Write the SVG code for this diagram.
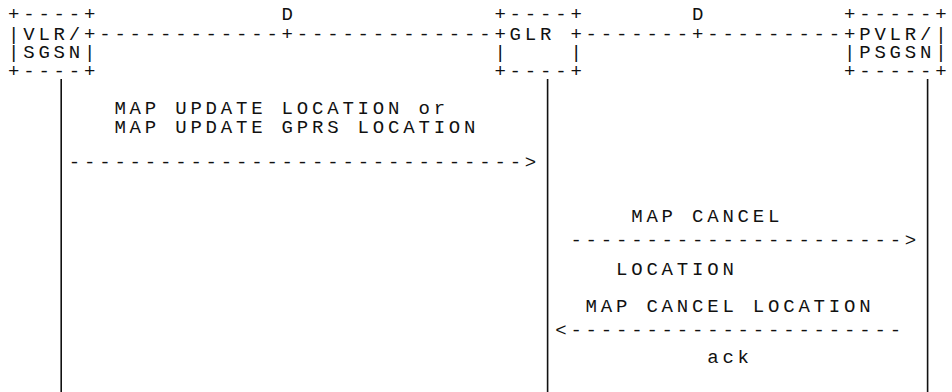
<svg xmlns="http://www.w3.org/2000/svg" width="952" height="392" viewBox="0 0 952 392">
<style>
.t{font-family:"Liberation Mono","Courier New",monospace;font-size:19px;letter-spacing:3.8px;fill:#111;white-space:pre}
.life{stroke:#111;stroke-width:1.6;fill:none}
</style>
<rect width="952" height="392" fill="#fff"/>
<g id="node-vlr-sgsn">
<text class="t" xml:space="preserve"><tspan x="8" y="20">+----+</tspan><tspan x="8" y="39.5">|VLR/+</tspan><tspan x="8" y="58">|SGSN|</tspan><tspan x="8" y="76.5">+----+</tspan></text>
</g>
<g id="node-glr">
<text class="t" xml:space="preserve"><tspan x="494.4" y="20">+----+</tspan><tspan x="494.4" y="39.5">+GLR +</tspan><tspan x="494.4" y="58">|    |</tspan><tspan x="494.4" y="76.5">+----+</tspan></text>
</g>
<g id="node-pvlr-psgsn">
<text class="t" xml:space="preserve"><tspan x="844" y="20">+-----+</tspan><tspan x="844" y="39.5">+PVLR/|</tspan><tspan x="844" y="58">|PSGSN|</tspan><tspan x="844" y="76.5">+-----+</tspan></text>
</g>
<g id="connectors">
<text class="t"><tspan x="281.6" y="20">D</tspan><tspan x="99.2" y="39.5">------------+-------------</tspan></text>
<text class="t"><tspan x="692" y="20">D</tspan><tspan x="585.6" y="39.5">-------+---------</tspan></text>
<line class="life" x1="61.2" y1="79" x2="61.2" y2="392"/>
<line class="life" x1="547.6" y1="79" x2="547.6" y2="392"/>
<line class="life" x1="927.6" y1="79" x2="927.6" y2="392"/>
<text class="t" xml:space="preserve"><tspan x="114.4" y="114">MAP UPDATE LOCATION or</tspan><tspan x="114.4" y="132.5">MAP UPDATE GPRS LOCATION</tspan></text>
<text class="t" x="68.8" y="168">------------------------------&gt;</text>
<text class="t" x="631.2" y="221.5" xml:space="preserve">MAP CANCEL</text>
<text class="t" x="570.4" y="246">----------------------&gt;</text>
<text class="t" x="616" y="274.5">LOCATION</text>
<text class="t" x="585.6" y="311.5" xml:space="preserve">MAP CANCEL LOCATION</text>
<text class="t" x="555.2" y="336">&lt;----------------------</text>
<text class="t" x="707.2" y="363">ack</text>
</g>
</svg>
